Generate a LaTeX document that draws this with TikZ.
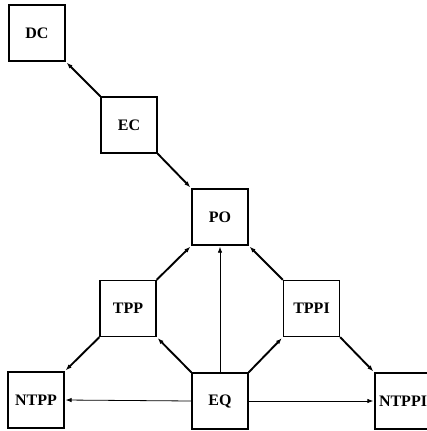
\documentclass[tikz,border=0pt]{standalone}
\usepackage{fontspec}
\setmainfont{Liberation Serif}
\usetikzlibrary{arrows.meta}
\begin{document}
\begin{tikzpicture}[x=1pt,y=-1pt,
  rbox/.style={draw,line width=1.3pt,minimum width=56pt,minimum height=56pt,inner sep=0pt,
    font=\fontsize{16pt}{18pt}\selectfont\bfseries},
  diag/.style={line width=1.9pt,-{Latex[length=6pt,width=4.5pt]},shorten >=1.5pt},
  thin/.style={line width=0.8pt,-{Latex[length=6pt,width=4.5pt]},shorten >=1pt}]
\useasboundingbox (0,0) rectangle (427,431);
\node[rbox] (DC) at (37,33) {DC};
\node[rbox] (EC) at (129,125) {EC};
\node[rbox] (PO) at (220,217) {PO};
\node[rbox] (TPP) at (128,308.5) {TPP};
\node[rbox] (TPPI) at (311.5,308.5) {TPPI};
\node[rbox] (NTPP) at (36,400) {NTPP};
\node[rbox] (EQ) at (220,401) {EQ};
\node[rbox] (NTPPI) at (403,401) {NTPPI};
\draw[diag] (EC.north west) -- (DC.south east);
\draw[diag] (EC.south east) -- (PO.north west);
\draw[diag] (TPP.north east) -- (PO.south west);
\draw[diag] (TPPI.north west) -- (PO.south east);
\draw[diag] (TPP.south west) -- (NTPP.north east);
\draw[diag] (EQ.north west) -- (TPP.south east);
\draw[diag] (EQ.north east) -- (TPPI.south west);
\draw[diag] (TPPI.south east) -- (NTPPI.north west);
\draw[thin] (EQ.north) -- (PO.south);
\draw[thin] (EQ.west) -- (NTPP.east);
\draw[thin] (EQ.east) -- (NTPPI.west);
\end{tikzpicture}
\end{document}
